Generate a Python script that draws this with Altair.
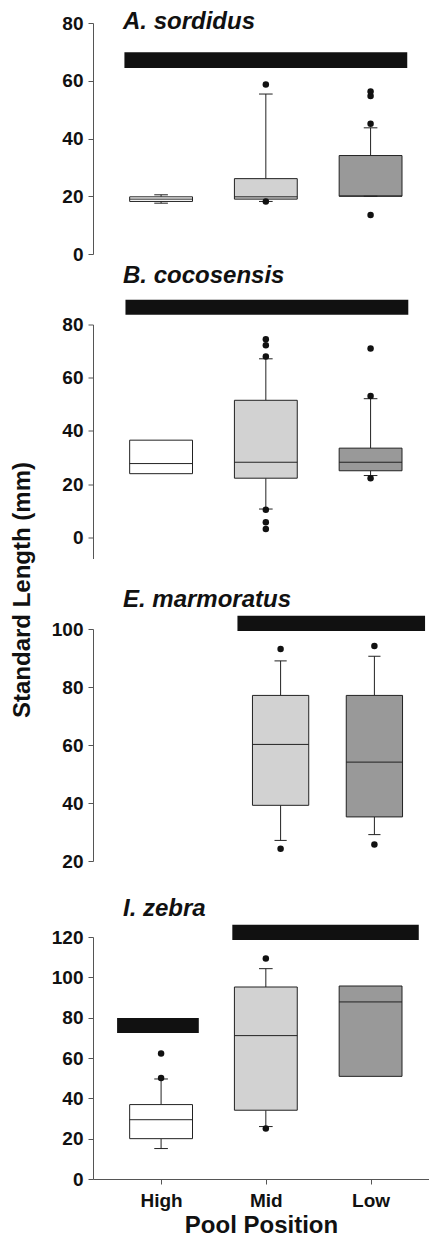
import altair as alt
import pandas as pd

FONT = "Liberation Sans"

positions = ["High", "Mid", "Low"]
fills = ["#ffffff", "#d2d2d2", "#999999"]
y_title = "Standard Length (mm)"
x_title = "Pool Position"

# ---- A. sordidus ----
sord_cat = ["High", "Mid", "Low"]
sord_q1 = [18.2, 19.0, 20.0]
sord_med = [19.0, 19.8, 20.1]
sord_q3 = [19.8, 26.1, 34.1]
sord_wlo = [17.6, 18.2, 20.0]
sord_whi = [20.5, 55.4, 43.7]
sord_out_cat = ["Mid", "Mid", "Low", "Low", "Low", "Low"]
sord_out_val = [58.7, 18.2, 45.1, 54.7, 56.3, 13.5]
sord_grp_from = [0.65]
sord_grp_to = [3.35]
sord_grp_lo = [64.4]
sord_grp_hi = [69.9]

# ---- B. cocosensis ----
coco_cat = ["High", "Mid", "Low"]
coco_q1 = [23.9, 22.2, 25.0]
coco_med = [27.7, 28.2, 28.2]
coco_q3 = [36.5, 51.5, 33.5]
coco_wlo = [None, 10.6, 23.2]
coco_whi = [None, 67.1, 52.1]
coco_out_cat = ["Mid", "Mid", "Mid", "Mid", "Mid", "Mid", "Low", "Low", "Low"]
coco_out_val = [74.5, 72.2, 68.0, 10.3, 5.6, 3.1, 71.0, 53.1, 22.2]
coco_grp_from = [0.66]
coco_grp_to = [3.36]
coco_grp_lo = [83.7]
coco_grp_hi = [89.3]

# ---- E. marmoratus ----
marm_cat = ["Mid", "Low"]
marm_q1 = [39.2, 35.2]
marm_med = [60.2, 54.1]
marm_q3 = [77.1, 77.1]
marm_wlo = [27.1, 29.1]
marm_whi = [89.0, 90.6]
marm_out_cat = ["Mid", "Mid", "Low", "Low"]
marm_out_val = [93.1, 24.2, 94.1, 25.7]
marm_grp_from = [1.54]
marm_grp_to = [3.54]
marm_grp_lo = [99.3]
marm_grp_hi = [104.6]

# ---- I. zebra ----
zeb_cat = ["High", "Mid", "Low"]
zeb_q1 = [20.0, 34.1, 50.9]
zeb_med = [29.4, 71.1, 87.8]
zeb_q3 = [36.9, 95.2, 95.7]
zeb_wlo = [15.1, 26.0, None]
zeb_whi = [49.6, 104.3, None]
zeb_out_cat = ["High", "High", "Mid", "Mid"]
zeb_out_val = [62.2, 50.1, 109.3, 25.0]
zeb_grp_from = [0.58, 1.68]
zeb_grp_to = [1.36, 3.46]
zeb_grp_lo = [72.4, 118.5]
zeb_grp_hi = [79.8, 126.1]

BOX_HALF = 0.30
CAP_HALF = 0.065
INK = "#111111"
EDGE = "#222222"
PLOT_W = 336


def panel(title, title_offset, cats, q1, med, q3, wlo, whi, out_cat, out_val,
          g_from, g_to, g_lo, g_hi, ydomain, yticks, xdomain, height, show_x,
          show_ytitle=False):
    boxes = pd.DataFrame({
        "cat": cats,
        "pos": [positions.index(c) + 1 for c in cats],
        "q1": q1, "med": med, "q3": q3,
    })
    boxes["left"] = boxes["pos"] - BOX_HALF
    boxes["right"] = boxes["pos"] + BOX_HALF

    wh_rows, cap_rows = [], []
    for c, a, b, lo, hi in zip(cats, q1, q3, wlo, whi):
        p = positions.index(c) + 1
        if lo is not None:
            wh_rows.append({"pos": p, "y0": lo, "y1": a})
            cap_rows.append({"l": p - CAP_HALF, "r": p + CAP_HALF, "y": lo})
        if hi is not None:
            wh_rows.append({"pos": p, "y0": b, "y1": hi})
            cap_rows.append({"l": p - CAP_HALF, "r": p + CAP_HALF, "y": hi})
    whisk = pd.DataFrame(wh_rows)
    caps = pd.DataFrame(cap_rows)
    outs = pd.DataFrame({"pos": [positions.index(c) + 1 for c in out_cat], "v": out_val})
    grps = pd.DataFrame({"a": g_from, "b": g_to, "lo": g_lo, "hi": g_hi})

    xs = alt.Scale(domain=xdomain, nice=False, zero=False)
    ys = alt.Scale(domain=ydomain, nice=False, zero=False)
    if show_x:
        label_expr = "[" + ",".join("'%s'" % p for p in positions) + "][datum.value - 1]"
        xaxis = alt.Axis(values=[1, 2, 3], labelExpr=label_expr, title=x_title,
                         labelPadding=7, titlePadding=3, labelFontSize=19, titleFontSize=24)
    else:
        xaxis = None
    if show_ytitle:
        yaxis = alt.Axis(values=yticks, title=y_title, titleFontSize=24,
                         titleX=-63.5, titleY=265, titleBaseline="alphabetic",
                         titleAngle=270, titleAlign="center")
    else:
        yaxis = alt.Axis(values=yticks, title=None)

    def X(f):
        return alt.X(f, type="quantitative", scale=xs, axis=xaxis)

    def Y(f):
        return alt.Y(f, type="quantitative", scale=ys, axis=yaxis)

    w = alt.Chart(whisk).mark_rule(color=EDGE, strokeWidth=1).encode(
        x=X("pos"), y=Y("y0"), y2=alt.Y2("y1"))
    bx = alt.Chart(boxes).mark_rect(stroke=EDGE, strokeWidth=1).encode(
        x=X("left"), x2=alt.X2("right"), y=Y("q1"), y2=alt.Y2("q3"),
        color=alt.Color("cat:N", scale=alt.Scale(domain=positions, range=fills), legend=None))
    md = alt.Chart(boxes).mark_rule(color=EDGE, strokeWidth=1).encode(
        x=X("left"), x2=alt.X2("right"), y=Y("med"))
    cp = alt.Chart(caps).mark_rule(color=EDGE, strokeWidth=1).encode(
        x=X("l"), x2=alt.X2("r"), y=Y("y"))
    ot = alt.Chart(outs).mark_circle(size=42, color=INK, opacity=1).encode(
        x=X("pos"), y=Y("v"))
    gb = alt.Chart(grps).mark_rect(color=INK).encode(
        x=X("a"), x2=alt.X2("b"), y=Y("lo"), y2=alt.Y2("hi"))

    layers = [w, bx, md]
    if len(caps):
        layers.append(cp)
    layers += [ot, gb]
    return alt.layer(*layers).properties(
        width=PLOT_W, height=height,
        title=alt.TitleParams(title, anchor="start", frame="group", dx=30,
                              offset=title_offset, baseline="alphabetic",
                              fontSize=24, fontStyle="italic", fontWeight="bold",
                              font=FONT, color=INK),
    )


XD_3 = [0.35, 0.35 + PLOT_W / 104.75]
XD_2 = [0, PLOT_W / 93.8]

pa = panel("A. sordidus", -39, sord_cat, sord_q1, sord_med, sord_q3, sord_wlo, sord_whi,
           sord_out_cat, sord_out_val, sord_grp_from, sord_grp_to, sord_grp_lo, sord_grp_hi,
           [0, 80], [0, 20, 40, 60, 80], XD_3, 231, False)
pb = panel("B. cocosensis", -7.5, coco_cat, coco_q1, coco_med, coco_q3, coco_wlo, coco_whi,
           coco_out_cat, coco_out_val, coco_grp_from, coco_grp_to, coco_grp_lo, coco_grp_hi,
           [-8, 80], [0, 20, 40, 60, 80], XD_3, 234, False, show_ytitle=True)
pc = panel("E. marmoratus", -15, marm_cat, marm_q1, marm_med, marm_q3, marm_wlo, marm_whi,
           marm_out_cat, marm_out_val, marm_grp_from, marm_grp_to, marm_grp_lo, marm_grp_hi,
           [20, 100], [20, 40, 60, 80, 100], XD_2, 232, False)
pd_ = panel("I. zebra", -15, zeb_cat, zeb_q1, zeb_med, zeb_q3, zeb_wlo, zeb_whi,
            zeb_out_cat, zeb_out_val, zeb_grp_from, zeb_grp_to, zeb_grp_lo, zeb_grp_hi,
            [0, 120], [0, 20, 40, 60, 80, 100, 120], XD_3, 242, True)

top = alt.vconcat(pa, pb, pc, spacing=70.5, bounds="flush")
chart = alt.vconcat(top, pd_, spacing=25).properties(
    padding={"left": 2, "top": 2, "right": 0, "bottom": 0},
).configure_view(strokeWidth=0).configure_axis(
    grid=False, domainColor="#555555", tickColor="#555555", tickSize=5,
    labelPadding=5, labelFont=FONT, labelFontSize=19, labelFontWeight="bold",
    labelColor=INK, titleFont=FONT, titleFontWeight="bold", titleColor=INK,
)

chart.save("out.html", embed_options={"renderer": "svg", "actions": False})
